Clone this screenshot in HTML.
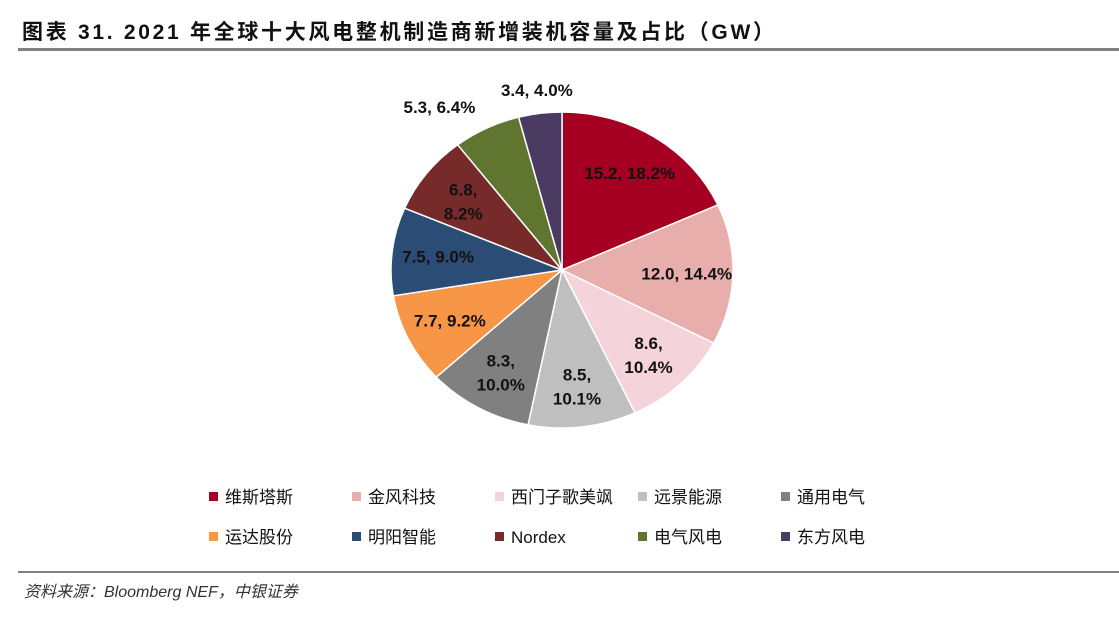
<!DOCTYPE html>
<html><head><meta charset="utf-8"><style>
body{margin:0;width:1119px;height:625px;background:#fff;overflow:hidden;font-family:"Liberation Sans","Noto Sans CJK SC",sans-serif;}
</style></head><body>
<svg width="1119" height="625">
<text x="22" y="39" font-size="21" font-weight="bold" fill="#111" textLength="752" lengthAdjust="spacing" font-family="Liberation Sans, Noto Sans CJK SC, sans-serif">图表 31. 2021 年全球十大风电整机制造商新增装机容量及占比（GW）</text>
<rect x="18" y="48" width="1101" height="3" fill="#808080"/>
<g id="pie"></g>
<g id="labels"></g>
<g id="legend"></g>
<rect x="18" y="571" width="1101" height="2" fill="#808080"/>
<text x="24" y="597" font-size="16" font-style="italic" fill="#333">资料来源：Bloomberg NEF，中银证券</text>
</svg>
<script>
const categories=["维斯塔斯","金风科技","西门子歌美飒","远景能源","通用电气","运达股份","明阳智能","Nordex","电气风电","东方风电"];
const values=[15.2,12.0,8.6,8.5,8.3,7.7,7.5,6.8,5.3,3.4];
const percents=["18.2%","14.4%","10.4%","10.1%","10.0%","9.2%","9.0%","8.2%","6.4%","4.0%"];
const colors=["#a50021","#e8aeab","#f5d3da","#bfbfbf","#808080","#f79646","#2b4c75","#772a2a","#5f7530","#4b3a62"];
const NS="http://www.w3.org/2000/svg";
const cx=562,cy=270,rx=171,ry=158;
const total=values.reduce((a,b)=>a+b,0);
const pie=document.getElementById('pie'),lab=document.getElementById('labels'),leg=document.getElementById('legend');
function pt(a,f){return [cx+Math.sin(a)*rx*f,cy-Math.cos(a)*ry*f];}
let acc=0;
const twoLine=[false,false,true,true,true,false,false,true,false,false];
const outside=[false,false,false,false,false,false,false,false,true,true];
values.forEach((v,i)=>{
  const a0=acc/total*2*Math.PI;acc+=v;const a1=acc/total*2*Math.PI;
  const p0=pt(a0,1),p1=pt(a1,1);
  const p=document.createElementNS(NS,'path');
  p.setAttribute('d',`M${cx},${cy}L${p0[0]},${p0[1]}A${rx},${ry} 0 ${a1-a0>Math.PI?1:0} 1 ${p1[0]},${p1[1]}Z`);
  p.setAttribute('fill',colors[i]);p.setAttribute('stroke','#fff');p.setAttribute('stroke-width','1.5');
  
  
  pie.appendChild(p);
  const am=(a0+a1)/2;
  const t=document.createElementNS(NS,'text');
  t.setAttribute('font-size','17');t.setAttribute('font-weight','bold');t.setAttribute('fill','#111');
  const txt=values[i].toFixed(1)+', '+percents[i];
  if(outside[i]){
    const q=pt(am,1.15);
    t.setAttribute('x',q[0]);t.setAttribute('y',q[1]+6);t.setAttribute('text-anchor',Math.sin(am)<-0.3?'end':'middle');
    t.textContent=txt;
  }else{
    const q=pt(am,0.73);
    t.setAttribute('text-anchor','middle');
    if(twoLine[i]){
      ['',''].forEach((_,k)=>{const s=document.createElementNS(NS,'tspan');s.setAttribute('x',q[0]);s.setAttribute('y',q[1]-4+k*24);s.textContent=k?percents[i]:values[i].toFixed(1)+',';t.appendChild(s);});
    }else{t.setAttribute('x',q[0]);t.setAttribute('y',q[1]+6);t.textContent=txt;}
  }
  
  
  lab.appendChild(t);
  const col=i%5,row=Math.floor(i/5);
  const lx=209+col*143,ly=497+row*40;
  const g=document.createElementNS(NS,'g');
  
  
  const r=document.createElementNS(NS,'rect');r.setAttribute('x',lx);r.setAttribute('y',ly-5);r.setAttribute('width',9);r.setAttribute('height',9);r.setAttribute('fill',colors[i]);
  const lt=document.createElementNS(NS,'text');lt.setAttribute('x',lx+16);lt.setAttribute('y',ly+6);lt.setAttribute('font-size','17');lt.setAttribute('fill','#111');lt.textContent=categories[i];
  g.appendChild(r);g.appendChild(lt);leg.appendChild(g);
});
</script>
</body></html>
